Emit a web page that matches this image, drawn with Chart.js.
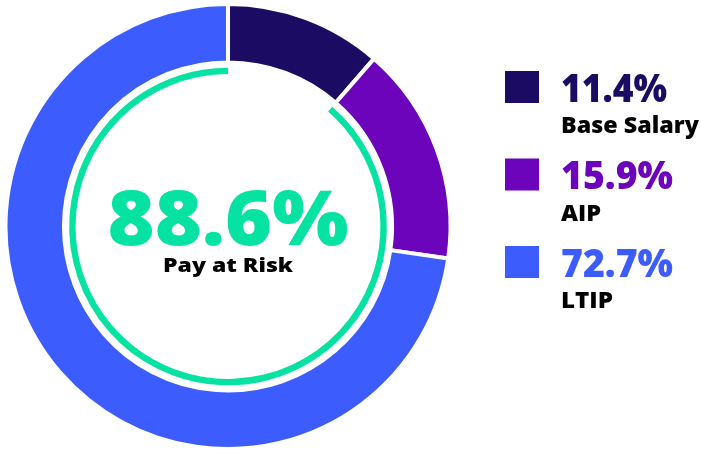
<!DOCTYPE html>
<html>
<head>
<meta charset="utf-8">
<script src="https://cdn.jsdelivr.net/npm/chart.js@4.4.1/dist/chart.umd.min.js"></script>
<style>
  html, body { margin: 0; padding: 0; background: #ffffff; overflow: hidden; }
  #pay { display: block; }
</style>
</head>
<body>
<canvas id="pay" width="701" height="454"></canvas>
<script>
// Pay mix components
const components = ['Base Salary', 'AIP', 'LTIP'];
const shares = [11.4, 15.9, 72.7];
const colors = ['#1b0b63', '#6c04bb', '#3c5cfe'];

// Share of pay that is at risk (AIP + LTIP), shown as the inner green arc
const atRiskLabel = 'Pay at Risk';
const atRiskShare = [11.4, 88.6];   // [fixed part (hidden), at-risk part]
const atRiskColor = '#05e2a1';

const FONT = '"Open Sans", "DejaVu Sans", sans-serif';
const WEIGHT = 800;

function fmtPct(v) { return v.toFixed(1) + '%'; }

// Draws text squeezed/stretched horizontally so it spans a given width
function drawFitted(ctx, text, x, y, font, color, width, align) {
  ctx.save();
  ctx.font = font;
  ctx.fillStyle = color;
  ctx.textBaseline = 'alphabetic';
  ctx.textAlign = 'left';
  const w = ctx.measureText(text).width;
  const s = width / w;
  const left = align === 'center' ? x - width / 2 : x;
  ctx.translate(left, y);
  ctx.scale(s, 1);
  ctx.fillText(text, 0, 0);
  ctx.restore();
}

const centerAndLegend = {
  id: 'centerAndLegend',
  afterDraw(chart) {
    const ctx = chart.ctx;
    const arc = chart.getDatasetMeta(0).data[0];
    const cx = arc.x;
    const cy = arc.y;

    // Centre: at-risk share and caption
    drawFitted(ctx, fmtPct(atRiskShare[1]), cx, cy + 18, WEIGHT + ' 76px ' + FONT, atRiskColor, 241, 'center');
    drawFitted(ctx, atRiskLabel, cx, cy + 45, WEIGHT + ' 20px ' + FONT, '#000000', 130, 'center');

    // Legend on the right: swatch, percentage, component name
    const x0 = 505;
    const top0 = 71;
    const rowGap = 87.5;
    const pctWidths = [106, 112, 112];
    const nameWidths = [138, 40, 52];
    components.forEach((name, i) => {
      const top = top0 + i * rowGap;
      ctx.fillStyle = colors[i];
      ctx.fillRect(x0, top, 34, 32);
      drawFitted(ctx, fmtPct(shares[i]), x0 + 56, top + 30.5, WEIGHT + ' 39px ' + FONT, colors[i], pctWidths[i], 'left');
      drawFitted(ctx, name, x0 + 56, top + 62, WEIGHT + ' 23px ' + FONT, '#000000', nameWidths[i], 'left');
    });
  }
};

function build() {
  new Chart(document.getElementById('pay'), {
    type: 'doughnut',
    data: {
      labels: components,
      datasets: [
        {
          data: shares,
          backgroundColor: colors,
          borderColor: '#ffffff',
          borderWidth: 4,
          weight: 59,
          hoverOffset: 0
        },
        {
          // blank band between the outer ring and the at-risk arc
          data: [100],
          backgroundColor: 'rgba(0,0,0,0)',
          borderWidth: 0,
          weight: 5.25,
          hoverOffset: 0
        },
        {
          data: atRiskShare,
          backgroundColor: ['rgba(0,0,0,0)', atRiskColor],
          borderWidth: 0,
          weight: 6.5,
          hoverOffset: 0
        }
      ]
    },
    options: {
      responsive: false,
      animation: false,
      devicePixelRatio: 1,
      cutout: '68.5%',
      layout: { padding: { left: 3.5, right: 248.5, top: 2, bottom: 3 } },
      plugins: {
        legend: { display: false },
        tooltip: { enabled: false }
      },
      events: []
    },
    plugins: [centerAndLegend]
  });
}

Promise.all([
  document.fonts.load(WEIGHT + ' 76px "Open Sans"'),
  document.fonts.load(WEIGHT + ' 23px "Open Sans"')
]).then(build, build);
</script>
</body>
</html>
